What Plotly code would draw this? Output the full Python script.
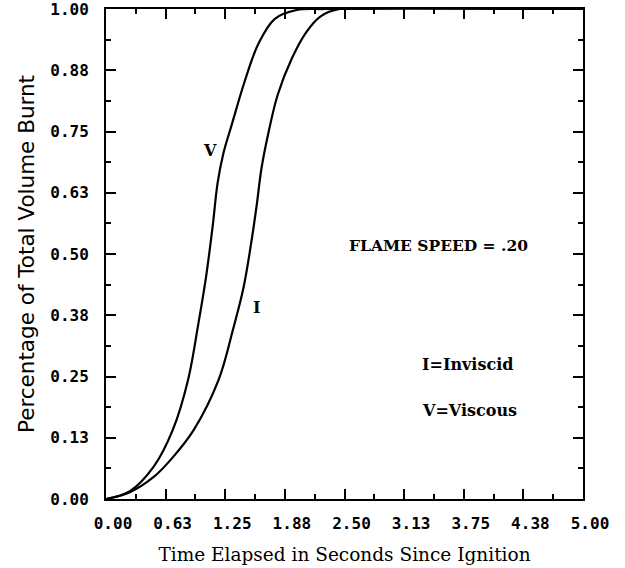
import plotly.graph_objects as go

# Data
time_viscous = [0, 0.25, 0.5, 0.7, 0.86, 0.97, 1.05, 1.12, 1.17, 1.23, 1.32, 1.45, 1.6, 1.77, 2.0, 2.3, 5.0]
vol_viscous = [0, 0.016, 0.066, 0.141, 0.243, 0.36, 0.455, 0.56, 0.645, 0.705, 0.765, 0.85, 0.93, 0.98, 0.998, 1.0, 1.0]

time_inviscid = [0, 0.25, 0.5, 0.7, 0.92, 1.18, 1.33, 1.44, 1.52, 1.58, 1.63, 1.70, 1.80, 1.95, 2.10, 2.25, 2.45, 5.0]
vol_inviscid = [0, 0.014, 0.045, 0.085, 0.141, 0.243, 0.345, 0.43, 0.52, 0.60, 0.675, 0.745, 0.825, 0.90, 0.953, 0.985, 1.0, 1.0]

x_tickvals = [0, 0.625, 1.25, 1.875, 2.5, 3.125, 3.75, 4.375, 5.0]
x_ticktext = ["0.00", "0.63", "1.25", "1.88", "2.50", "3.13", "3.75", "4.38", "5.00"]
y_tickvals = [0, 0.125, 0.25, 0.375, 0.5, 0.625, 0.75, 0.875, 1.0]
y_ticktext = ["0.00", "0.13", "0.25", "0.38", "0.50", "0.63", "0.75", "0.88", "1.00"]
x_minor = [0.3125 + 0.625 * i for i in range(8)]
y_minor = [0.0625 + 0.125 * i for i in range(8)]

fig = go.Figure()
fig.add_trace(go.Scatter(x=time_viscous, y=vol_viscous, mode="lines",
                         line=dict(color="black", width=2.2, shape="spline", smoothing=1.0),
                         showlegend=False))
fig.add_trace(go.Scatter(x=time_inviscid, y=vol_inviscid, mode="lines",
                         line=dict(color="black", width=2.2, shape="spline", smoothing=1.0),
                         showlegend=False))

tickfont = dict(family="DejaVu Sans Mono", size=16, color="black", weight="bold")

fig.update_xaxes(range=[0, 5], tickmode="array", tickvals=x_tickvals, ticktext=x_ticktext,
                 ticks="inside", ticklen=10, tickwidth=2, tickcolor="black",
                 showline=True, linewidth=2, linecolor="black", mirror="allticks",
                 showgrid=False, zeroline=False, tickfont=tickfont, automargin=False,
                 ticklabelshift=7, ticklabelstandoff=9, ticklabeloverflow="allow",
                 minor=dict(tickvals=x_minor, ticks="inside", ticklen=5, tickwidth=1.5,
                            tickcolor="black", showgrid=False),
                 title=dict(text="Time Elapsed in Seconds Since Ignition",
                            font=dict(family="DejaVu Serif", size=18.5, color="black"),
                            standoff=16))
fig.update_yaxes(range=[0, 1], tickmode="array", tickvals=y_tickvals, ticktext=y_ticktext,
                 ticks="inside", ticklen=10, tickwidth=2, tickcolor="black",
                 showline=True, linewidth=2, linecolor="black", mirror="allticks",
                 showgrid=False, zeroline=False, tickfont=tickfont, automargin=False,
                 ticklabelstandoff=12, ticklabeloverflow="allow",
                 minor=dict(tickvals=y_minor, ticks="inside", ticklen=5, tickwidth=1.5,
                            tickcolor="black", showgrid=False),
                 title=dict(text="Percentage of Total Volume Burnt",
                            font=dict(family="DejaVu Sans", size=21.5, color="black"),
                            standoff=10))

ann_font = dict(family="DejaVu Serif", size=16, color="black", weight="bold")
fig.add_annotation(x=2.53, y=0.517, text="FLAME SPEED = .20", showarrow=False,
                   xanchor="left", yanchor="middle",
                   font=dict(family="DejaVu Serif", size=15.5, color="black", weight="bold"))
fig.add_annotation(x=3.29, y=0.275, text="I=Inviscid", showarrow=False,
                   xanchor="left", yanchor="middle", font=ann_font)
fig.add_annotation(x=3.29, y=0.181, text="V=Viscous", showarrow=False,
                   xanchor="left", yanchor="middle", font=ann_font)
fig.add_annotation(x=1.09, y=0.711, text="V", showarrow=False,
                   xanchor="center", yanchor="middle", font=ann_font)
fig.add_annotation(x=1.58, y=0.391, text="I", showarrow=False,
                   xanchor="center", yanchor="middle", font=ann_font)

fig.update_layout(width=625, height=568, margin=dict(l=106, r=42, t=9, b=69),
                  paper_bgcolor="white", plot_bgcolor="white")

fig.write_html("out.html")
